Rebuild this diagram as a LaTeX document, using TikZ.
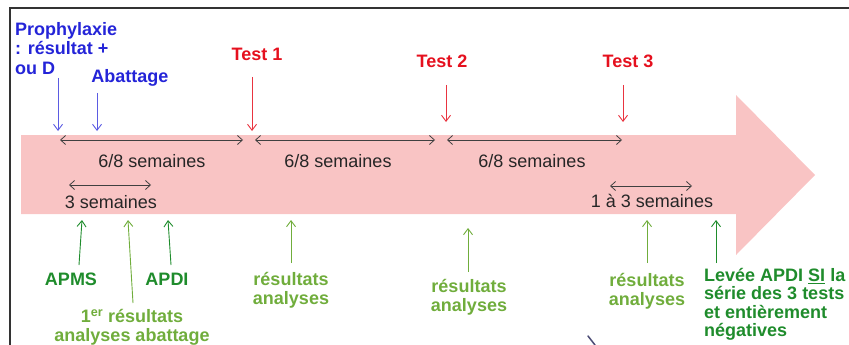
\documentclass[tikz,border=0pt]{standalone}
\usepackage{fontspec}
\setmainfont{Liberation Sans}
\usetikzlibrary{arrows.meta}
\definecolor{bodypink}{HTML}{F9C4C4}
\definecolor{prophyblue}{HTML}{2424D8}
\definecolor{testred}{HTML}{E5101E}
\definecolor{lightres}{HTML}{70AD3C}
\definecolor{darkres}{HTML}{1F8C2C}

\begin{document}
\begin{tikzpicture}[
    x=1pt, y=-1pt,
    lbl/.style={inner sep=0pt, font=\fontsize{18}{19.5}\selectfont\bfseries},
    dur/.style={inner sep=0pt, font=\fontsize{18}{19.5}\selectfont, black!85},
    span/.style={{Straight Barb[length=5pt,width=9pt]}-{Straight Barb[length=5pt,width=9pt]}, line width=0.8pt, black!75},
    event/.style={-{Straight Barb[length=6pt,width=9pt]}, line width=0.9pt}
]
    \useasboundingbox (0,0) rectangle (849,345);
    \draw[line width=1.5pt, black!80] (10,345) |- (849,8);
    % big arrow
    \fill[bodypink] (21,135) -- (736,135) -- (736,95) -- (815,175) -- (736,255)
        -- (736,214) -- (21,214) -- cycle;

    % weeks between the tests
    \coordinate (w0) at (60,140);
    \coordinate (w1) at (243,140);
    \coordinate (w2) at (255,140);
    \coordinate (w3) at (435,140);
    \coordinate (w4) at (447,140);
    \coordinate (w5) at (622,140);
    \draw[span] (w0) -- (w1);
    \draw[span] (w2) -- (w3);
    \draw[span] (w4) -- (w5);
    \node[dur, anchor=base] (d1) at (152,167) {6/8 semaines};
    \node[dur, anchor=base] (d2) at (338,167) {6/8 semaines};
    \node[dur, anchor=base] (d3) at (532,167) {6/8 semaines};

    \coordinate (s0) at (69,185);
    \coordinate (s1) at (151,185);
    \coordinate (s2) at (610,186);
    \coordinate (s3) at (692,186);
    \draw[span] (s0) -- (s1);
    \draw[span] (s2) -- (s3);
    \node[dur, anchor=base] (d4) at (111,208) {3 semaines};
    \node[dur, anchor=base] (d5) at (652,207) {1 à 3 semaines};

    % events above
    \node[lbl, prophyblue, anchor=north west, align=left] (proph) at (15,22)
        {Prophylaxie\\: résultat +\\ou D};
    \node[lbl, prophyblue, anchor=base] (abat) at (130,83) {Abattage};
    \node[lbl, testred, anchor=base] (t1) at (257,61) {Test 1};
    \node[lbl, testred, anchor=base] (t2) at (442,68) {Test 2};
    \node[lbl, testred, anchor=base] (t3) at (628,68) {Test 3};

    \coordinate (pa) at (58,78);   \coordinate (pb) at (58,131);
    \coordinate (aa) at (97,93);   \coordinate (ab) at (97,131);
    \coordinate (t1a) at (252,77); \coordinate (t1b) at (252,131);
    \coordinate (t2a) at (446,85); \coordinate (t2b) at (446,122);
    \coordinate (t3a) at (623,85); \coordinate (t3b) at (623,122);
    \draw[event, prophyblue!75] (pa) -- (pb);
    \draw[event, prophyblue!75] (aa) -- (ab);
    \draw[event, testred!85] (t1a) -- (t1b);
    \draw[event, testred!85] (t2a) -- (t2b);
    \draw[event, testred!85] (t3a) -- (t3b);

    % events below
    \node[lbl, darkres, anchor=base] (apms) at (71,285) {APMS};
    \node[lbl, darkres, anchor=base] (apdi) at (167,285) {APDI};
    \node[lbl, lightres, anchor=north, align=center] (first) at (132,309)
        {1\textsuperscript{er} résultats\\analyses abattage};
    \node[lbl, lightres, anchor=north, align=center] (r1) at (291,272)
        {résultats\\analyses};
    \node[lbl, lightres, anchor=north, align=center] (r2) at (469,279)
        {résultats\\analyses};
    \node[lbl, lightres, anchor=north, align=center] (r3) at (647,273)
        {résultats\\analyses};
    \node[lbl, darkres, anchor=north west, align=left,
        font=\fontsize{18}{18.5}\selectfont\bfseries] (levee) at (704,268)
        {Levée APDI \underline{SI} la\\série des 3 tests\\et entièrement\\négatives};

    \coordinate (apmsa) at (79,265);  \coordinate (apmsb) at (82,220);
    \coordinate (apdia) at (171,265); \coordinate (apdib) at (168,220);
    \coordinate (fa) at (133,303);    \coordinate (fb) at (128,220);
    \coordinate (r1a) at (291,263);   \coordinate (r1b) at (291,220);
    \coordinate (r2a) at (468,272);   \coordinate (r2b) at (468,228);
    \coordinate (r3a) at (647,263);   \coordinate (r3b) at (647,220);
    \coordinate (la) at (716,263);    \coordinate (lb) at (716,220);
    \draw[event, darkres] (apmsa) -- (apmsb);
    \draw[event, darkres] (apdia) -- (apdib);
    \draw[event, lightres] (fa) -- (fb);
    \draw[event, lightres] (r1a) -- (r1b);
    \draw[event, lightres] (r2a) -- (r2b);
    \draw[event, lightres] (r3a) -- (r3b);
    \draw[event, darkres] (la) -- (lb);

    \draw[line width=1.5pt, black!60!blue!40!gray, line cap=round] (588,336) -- (595,345);
\end{tikzpicture}
\end{document}
